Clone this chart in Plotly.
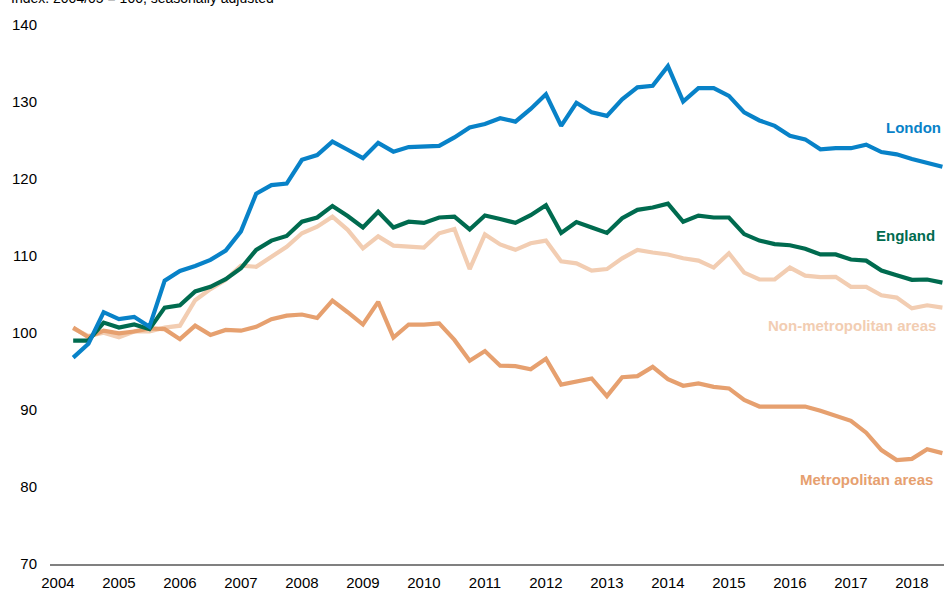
import plotly.graph_objects as go

# Quarterly, 2004 Q2 .. 2018 Q3
quarters = [f"{2004 + (i + 1) // 4} Q{(i + 1) % 4 + 1}" for i in range(58)]

london = [96.8, 98.6, 102.7, 101.8, 102.1, 100.8, 106.8, 108.05, 108.7, 109.5,
          110.7, 113.2, 118.1, 119.2, 119.4, 122.5, 123.1, 124.85, 123.8, 122.7,
          124.7, 123.55, 124.15, 124.2, 124.3, 125.4, 126.7, 127.15, 127.9, 127.45,
          129.1, 131.0, 126.9, 129.9, 128.65, 128.2, 130.35, 131.9, 132.1, 134.65,
          130.05, 131.8, 131.8, 130.8, 128.65, 127.6, 126.9, 125.6, 125.15, 123.85,
          124.0, 124.0, 124.45, 123.5, 123.2, 122.6, 122.05, 121.6]

england = [99.0, 99.0, 101.35, 100.7, 101.1, 100.5, 103.3, 103.6, 105.4, 106.0,
           107.0, 108.4, 110.8, 112.0, 112.6, 114.45, 115.0, 116.5, 115.2, 113.7,
           115.75, 113.7, 114.45, 114.3, 115.0, 115.1, 113.45, 115.25, 114.8, 114.3,
           115.3, 116.6, 113.0, 114.4, 113.7, 113.0, 114.9, 116.0, 116.3, 116.8,
           114.45, 115.25, 115.0, 115.0, 112.85, 112.0, 111.55, 111.4, 110.95, 110.2,
           110.2, 109.55, 109.4, 108.1, 107.5, 106.9, 106.95, 106.55]

non_metro = [100.6, 99.6, 100.05, 99.45, 100.2, 100.2, 100.7, 100.95, 104.25, 105.7,
             106.9, 108.75, 108.6, 109.9, 111.2, 112.95, 113.8, 115.1, 113.4, 111.0,
             112.55, 111.35, 111.2, 111.1, 112.95, 113.5, 108.3, 112.8, 111.5, 110.8,
             111.65, 112.0, 109.3, 109.05, 108.1, 108.3, 109.7, 110.8, 110.45, 110.2,
             109.7, 109.4, 108.5, 110.35, 107.85, 106.95, 106.95, 108.5, 107.45, 107.25,
             107.3, 106.0, 106.0, 104.9, 104.6, 103.2, 103.6, 103.3]

metro = [100.7, 99.45, 100.3, 99.95, 100.2, 100.6, 100.5, 99.2, 100.95, 99.75,
         100.4, 100.3, 100.8, 101.8, 102.25, 102.4, 101.95, 104.2, 102.7, 101.1,
         104.05, 99.4, 101.1, 101.1, 101.25, 99.1, 96.4, 97.65, 95.75, 95.7,
         95.3, 96.65, 93.3, 93.65, 94.1, 91.8, 94.25, 94.4, 95.6, 94.0,
         93.15, 93.45, 93.0, 92.8, 91.3, 90.45, 90.45, 90.45, 90.45, 89.9,
         89.25, 88.6, 87.05, 84.8, 83.5, 83.65, 84.9, 84.4]

year_ticks = list(range(2004, 2019))
y_ticks = [70, 80, 90, 100, 110, 120, 130, 140]

# quarter -> decimal year position
x = [int(q[:4]) + (int(q[-1]) - 1) / 4 for q in quarters]

series = [
    ("Non-metropolitan areas", non_metro, "#F2CDB2", 101.0, -6),
    ("Metropolitan areas", metro, "#E6A06F", 81.0, -9),
    ("England", england, "#006B4F", 112.7, -7),
    ("London", london, "#0882C8", 126.75, -1),
]

fig = go.Figure()
for name, vals, color, ly, xs in series:
    fig.add_trace(go.Scatter(x=x, y=vals, mode="lines", name=name,
                             line=dict(color=color, width=4.2), showlegend=False))
    fig.add_annotation(text=f"<b>{name}</b>", xref="paper", x=1, xanchor="right",
                       xshift=xs, yref="y", y=ly, yanchor="middle", showarrow=False,
                       font=dict(family="Arial, Liberation Sans", size=15, color=color))

fig.add_annotation(text="Index: 2004/05 = 100, seasonally adjusted", xref="paper", x=0,
                   xanchor="left", xshift=-41, yref="paper", y=1, yanchor="bottom",
                   yshift=17, showarrow=False,
                   font=dict(family="Arial, Liberation Sans", size=14, color="#000000"))

fig.update_layout(
    width=944, height=590,
    margin=dict(l=50, r=0, t=25, b=26),
    paper_bgcolor="white", plot_bgcolor="white",
    font=dict(family="Arial, Liberation Sans", size=15, color="#000000"),
    xaxis=dict(range=[2003.87, 2018.526], tickvals=year_ticks,
               ticktext=[str(t) for t in year_ticks], showgrid=False, zeroline=False,
               showline=True, linecolor="#808080", linewidth=2, ticks="",
               ticklabelstandoff=4, automargin=False),
    yaxis=dict(range=[70, 140], tickvals=y_ticks, showgrid=False, zeroline=False,
               showline=False, ticks="", ticklabelstandoff=12, automargin=False),
)

fig.write_html("out.html", config={"displayModeBar": False},
               post_script="document.body.style.margin='0';document.body.style.overflow='hidden';")
